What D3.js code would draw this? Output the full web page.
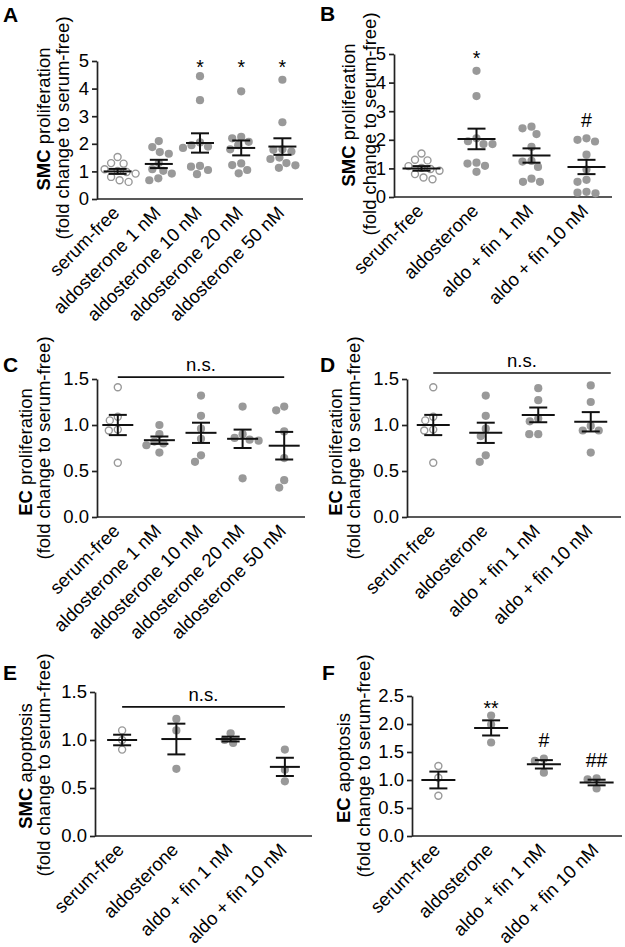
<!DOCTYPE html>
<html><head><meta charset="utf-8">
<script src="https://cdn.jsdelivr.net/npm/d3@7"></script>
<style>
html,body{margin:0;padding:0;background:#fff;}
text{font-family:"Liberation Sans",Arial,Helvetica,sans-serif;fill:#000;}
</style></head>
<body><svg id="chart" width="625" height="947"></svg>
<script>
// ---------- DATA ----------
const catsDose = ["serum-free","aldosterone 1 nM","aldosterone 10 nM","aldosterone 20 nM","aldosterone 50 nM"];
const catsFin  = ["serum-free","aldosterone","aldo + fin 1 nM","aldo + fin 10 nM"];

const ticksSMCprolif = [0,1,2,3,4,5];
const ticksEC15 = [0,0.5,1.0,1.5];
const ticksEC25 = [0,0.5,1.0,1.5,2.0,2.5];

// A: SMC proliferation, aldosterone dose
const valsA = [
  [1.52,1.30,1.28,1.08,1.02,0.98,0.92,0.80,0.68,0.62],
  [2.10,1.88,1.70,1.64,1.30,1.08,1.02,0.92,0.75,0.68],
  [4.45,3.58,2.05,1.95,1.90,1.85,1.20,1.17,1.05,0.90],
  [3.90,2.25,2.20,2.07,1.95,1.80,1.29,1.23,1.05,0.93],
  [4.32,2.78,1.80,1.78,1.72,1.50,1.45,1.30,1.22,1.13]
];
const meansA = [1.00,1.27,2.03,1.85,1.90];
const semsA  = [0.09,0.15,0.35,0.27,0.30];
const annotA = [{cat:2,text:"*",v:4.53},{cat:3,text:"*",v:4.53},{cat:4,text:"*",v:4.53}];

// B: SMC proliferation, finerenone
const valsB = [
  [1.52,1.30,1.28,1.08,1.02,0.98,0.92,0.80,0.68,0.62],
  [4.41,3.53,2.05,1.95,1.85,1.85,1.20,1.17,1.09,0.88],
  [2.46,2.40,2.20,1.75,1.26,1.24,1.05,0.64,0.53,0.53],
  [2.05,2.00,1.94,1.48,0.96,0.60,0.53,0.18,0.15,0.13]
];
const meansB = [1.00,2.03,1.45,1.05];
const semsB  = [0.08,0.36,0.25,0.25];
const annotB = [{cat:1,text:"*",v:4.62},{cat:3,text:"#",v:2.45}];

// C: EC proliferation, aldosterone dose
const valsC = [
  [1.41,1.09,1.05,0.95,0.94,0.59],
  [1.00,0.90,0.82,0.80,0.78,0.70],
  [1.32,1.10,0.96,0.85,0.67,0.60],
  [1.20,0.90,0.86,0.84,0.83,0.42],
  [1.20,1.16,0.93,0.64,0.40,0.32]
];
const meansC = [1.00,0.835,0.915,0.85,0.775];
const semsC  = [0.11,0.04,0.11,0.10,0.15];
const nsC = {from:0,to:4,v:1.52};

// D: EC proliferation, finerenone
const valsD = [
  [1.41,1.09,1.05,0.95,0.94,0.59],
  [1.32,1.10,0.96,0.88,0.67,0.60],
  [1.40,1.27,1.07,1.04,0.90,0.90],
  [1.43,1.25,0.99,0.94,0.94,0.70]
];
const meansD = [1.00,0.915,1.11,1.035];
const semsD  = [0.11,0.11,0.08,0.105];
const nsD = {from:0,to:3,v:1.565};

// E: SMC apoptosis
const valsE = [
  [1.10,1.00,0.90],
  [1.22,1.10,0.70],
  [1.07,1.00,0.97],
  [0.90,0.69,0.57]
];
const meansE = [1.00,1.01,1.01,0.72];
const semsE  = [0.055,0.16,0.025,0.095];
const nsE = {from:0,to:3,v:1.346};

// F: EC apoptosis
const valsF = [
  [1.25,1.04,0.72],
  [2.15,1.99,1.67],
  [1.38,1.34,1.13],
  [1.03,1.01,0.85]
];
const meansF = [1.00,1.93,1.28,0.955];
const semsF  = [0.15,0.135,0.075,0.05];
const annotF = [{cat:1,text:"**",v:2.16},{cat:2,text:"#",v:1.59},{cat:3,text:"##",v:1.23}];

// ---------- LAYOUT ----------
const panels = [
  {L:"A",lx:3,ly:22,x0:97,x1:303,ax1:303,y0:199,yT:61,max:5,ticks:ticksSMCprolif,fmt:d3.format("d"),
   cats:catsDose,vals:valsA,means:meansA,sems:semsA,annot:annotA,ns:null,
   tb:"SMC",tr:" proliferation",t1x:50,t2x:69,t1c:119,t2c:128,mw:28},
  {L:"B",lx:320,ly:21,x0:394,x1:614,ax1:612,y0:197,yT:54,max:5,ticks:ticksSMCprolif,fmt:d3.format("d"),
   cats:catsFin,vals:valsB,means:meansB,sems:semsB,annot:annotB,ns:null,
   tb:"SMC",tr:" proliferation",t1x:355,t2x:376,t1c:115,t2c:124,mw:38},
  {L:"C",lx:3,ly:372,x0:97,x1:305,ax1:305,y0:517,yT:379,max:1.5,ticks:ticksEC15,fmt:d3.format(".1f"),
   cats:catsDose,vals:valsC,means:meansC,sems:semsC,annot:[],ns:nsC,
   tb:"EC",tr:" proliferation",t1x:32,t2x:50,t1c:452,t2c:448,mw:31},
  {L:"D",lx:320,ly:372,x0:407,x1:617,ax1:621,y0:517,yT:379,max:1.5,ticks:ticksEC15,fmt:d3.format(".1f"),
   cats:catsFin,vals:valsD,means:meansD,sems:semsD,annot:[],ns:nsD,nsExt:20,
   tb:"EC",tr:" proliferation",t1x:342,t2x:360,t1c:452,t2c:448,mw:33},
  {L:"E",lx:3,ly:680,x0:95,x1:312,ax1:312,y0:836,yT:692,max:1.5,ticks:ticksEC15,fmt:d3.format(".1f"),
   cats:catsFin,vals:valsE,means:meansE,sems:semsE,annot:[],ns:nsE,
   tb:"SMC",tr:" apoptosis",t1x:32,t2x:50,t1c:766,t2c:765,mw:30},
  {L:"F",lx:322,ly:680,x0:412,x1:623,ax1:622,y0:836,yT:696,max:2.5,ticks:ticksEC25,fmt:d3.format(".1f"),
   cats:catsFin,vals:valsF,means:meansF,sems:semsF,annot:annotF,ns:null,
   tb:"EC",tr:" apoptosis",t1x:350,t2x:370,t1c:768,t2c:766,mw:34}
];

const svg = d3.select("#chart");
const FS = 18.5, R = 4.1, GRAY = "#999999", AX = "#222";

function beeswarm(values, cx, y){
  const placed = [];
  const order = values.map((v,i)=>({v,i})).sort((a,b)=>b.v-a.v);
  const out = new Array(values.length);
  const minD = 2*R + 0.6;
  order.forEach(o=>{
    const py = y(o.v);
    let best = null;
    for(let k=0;k<200 && best===null;k++){
      const cands = k===0?[0]:[-k*0.5,k*0.5];
      for(const dx of cands){
        const ok = placed.every(p=>Math.hypot(p.x-(cx+dx),p.y-py)>=minD);
        if(ok){best=cx+dx;break;}
      }
    }
    placed.push({x:best,y:py});
    out[o.i]={x:best,y:py};
  });
  return out;
}

panels.forEach(p=>{
  const g = svg.append("g");
  const x = d3.scaleBand().domain(p.cats).range([p.x0,p.x1]).padding(0);
  const y = d3.scaleLinear().domain([0,p.max]).range([p.y0,p.yT]);

  g.append("text").attr("x",p.lx).attr("y",p.ly).attr("font-size",21).attr("font-weight","bold").text(p.L);

  const ya = g.append("g").attr("transform",`translate(${p.x0},0)`)
    .call(d3.axisLeft(y).tickValues(p.ticks).tickFormat(p.fmt).tickSize(5).tickSizeOuter(0).tickPadding(3));
  ya.selectAll("path,line").attr("stroke",AX).attr("stroke-width",1.7);
  ya.selectAll("text").attr("font-size",FS).attr("font-family",null);

  const xa = g.append("g").attr("transform",`translate(0,${p.y0})`)
    .call(d3.axisBottom(x).tickSize(0).tickSizeOuter(0));
  xa.select("path").attr("d",`M${p.x0},0H${p.ax1}`).attr("stroke",AX).attr("stroke-width",1.7);
  xa.selectAll("text").attr("font-size",FS).attr("font-family",null)
    .attr("x",0).attr("y",0).attr("dy",null)
    .attr("text-anchor","end")
    .attr("transform","translate(3,15) rotate(-45)");

  const t1 = g.append("text").attr("font-size",FS).attr("text-anchor","middle")
    .attr("transform",`translate(${p.t1x},${p.t1c}) rotate(-90)`);
  t1.append("tspan").attr("font-weight","bold").text(p.tb);
  t1.append("tspan").text(p.tr);
  g.append("text").attr("font-size",FS).attr("text-anchor","middle")
    .attr("transform",`translate(${p.t2x},${p.t2c}) rotate(-90)`)
    .text("(fold change to serum-free)");

  p.vals.forEach((vals,ci)=>{
    const cx = x(p.cats[ci]) + x.bandwidth()/2;
    const pts = beeswarm(vals,cx,y);
    const open = ci===0;
    g.append("g").selectAll("circle").data(pts).join("circle")
      .attr("cx",d=>d.x).attr("cy",d=>d.y).attr("r",open?R-0.6:R)
      .attr("fill",open?"#fff":GRAY)
      .attr("stroke",open?GRAY:"none").attr("stroke-width",1.4);
  });

  p.means.forEach((m,ci)=>{
    const cx = x(p.cats[ci]) + x.bandwidth()/2;
    const s = p.sems[ci];
    const e = g.append("g").attr("stroke","#111").attr("stroke-width",2).attr("fill","none");
    e.append("line").attr("x1",cx-p.mw/2).attr("x2",cx+p.mw/2).attr("y1",y(m)).attr("y2",y(m));
    e.append("line").attr("x1",cx).attr("x2",cx).attr("y1",y(m+s)).attr("y2",y(m-s));
    e.append("line").attr("x1",cx-9).attr("x2",cx+9).attr("y1",y(m+s)).attr("y2",y(m+s));
    e.append("line").attr("x1",cx-9).attr("x2",cx+9).attr("y1",y(m-s)).attr("y2",y(m-s));
  });

  p.annot.forEach(a=>{
    const cx = x(p.cats[a.cat]) + x.bandwidth()/2;
    g.append("text").attr("x",cx).attr("y",y(a.v)).attr("text-anchor","middle").attr("font-size",FS+1).text(a.text);
  });

  if(p.ns){
    const xa0 = x(p.cats[p.ns.from]) + x.bandwidth()/2;
    const xa1 = x(p.cats[p.ns.to]) + x.bandwidth()/2 + (p.nsExt||0);
    const yy = y(p.ns.v);
    g.append("line").attr("x1",xa0).attr("x2",xa1).attr("y1",yy).attr("y2",yy).attr("stroke","#111").attr("stroke-width",1.7);
    g.append("text").attr("x",(xa0+xa1)/2).attr("y",yy-6).attr("text-anchor","middle").attr("font-size",FS).text("n.s.");
  }
});
</script></body></html>
